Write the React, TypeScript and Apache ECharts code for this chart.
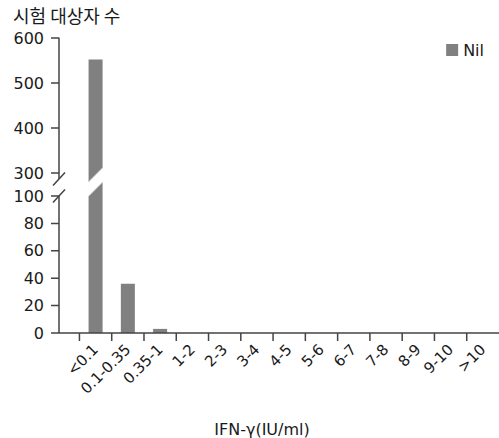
import React, { useEffect, useRef } from "react";
import * as echarts from "echarts";

// IFN-γ response bins and subject counts
const categories = ["<0.1", "0.1-0.35", "0.35-1", "1-2", "2-3", "3-4", "4-5", "5-6", "6-7", "7-8", "8-9", "9-10", ">10"];
const nilCounts = [552, 36, 3, 0, 0, 0, 0, 0, 0, 0, 0, 0, 0];

// Broken value axis: upper and lower segments
const upperRange = { min: 300, max: 600, interval: 100 };
const lowerRange = { min: 0, max: 100, interval: 20 };
const upperTicks = [600, 500, 400, 300];
const lowerTicks = [100, 80, 60, 40, 20, 0];

const seriesName = "Nil";
const yTitle = "시험 대상자 수";
const xTitle = "IFN-γ(IU/ml)";

// Layout (pixels)
const W = 499;
const H = 438;
const GRID_LEFT = 59; // y axis position
const FIRST_BIN_X = 80; // left edge of the first bin
const BIN_W = 33.15;
const UPPER_TOP = 38;
const BREAK_TOP = 173; // bottom of upper segment
const BREAK_BOTTOM = 196; // where the lower segment's top tick sits
const BASE_Y = 333; // zero line
const TICK_LEN = 8;

const AXIS_COLOR = "#444444";
const BAR_COLOR = "#808080";
const TEXT_COLOR = "#1a1a1a";
const FONT = "DejaVu Sans";

export default function App() {
  const ref = useRef<HTMLDivElement>(null);

  useEffect(() => {
    document.body.style.margin = "0";
    if (!ref.current) return;
    const chart = echarts.init(ref.current, null, { renderer: "svg" });

    // bins live on a value axis: bin i spans [i, i+1]; the axis starts a little before bin 0
    const xMin = -(FIRST_BIN_X - GRID_LEFT) / BIN_W;
    const xMax = categories.length;
    const gridWidth = (xMax - xMin) * BIN_W;
    const binEdges = categories.map((_, i) => i);
    const binCenters = categories.map((_, i) => i + 0.5);
    const barData = nilCounts.map((v, i) => [binCenters[i], v]);

    // lower axis runs on through the break gap so the tall bar stays continuous
    const lowerScale = (BASE_Y - BREAK_BOTTOM) / (lowerRange.max - lowerRange.min);
    const lowerAxisMax = lowerRange.max + (BREAK_BOTTOM - BREAK_TOP) / lowerScale;

    const yLabel = () => ({ color: TEXT_COLOR, fontSize: 16, fontFamily: FONT, margin: 15 });

    chart.setOption({
      animation: false,
      backgroundColor: "#ffffff",
      textStyle: { fontFamily: FONT },
      title: {
        text: yTitle,
        left: 8,
        top: 1,
        textStyle: {
          fontFamily: "Noto Sans CJK KR",
          fontSize: 18,
          fontWeight: "normal",
          color: TEXT_COLOR,
        },
      },
      legend: {
        data: [seriesName],
        right: 10,
        top: 37,
        icon: "rect",
        itemWidth: 12,
        itemHeight: 12,
        textStyle: { fontSize: 16, color: TEXT_COLOR, fontFamily: FONT },
      },
      grid: [
        { left: GRID_LEFT, width: gridWidth, top: UPPER_TOP, bottom: H - BREAK_TOP },
        { left: GRID_LEFT, width: gridWidth, top: BREAK_TOP, bottom: H - BASE_Y },
      ],
      xAxis: [
        {
          type: "value",
          gridIndex: 0,
          min: xMin,
          max: xMax,
          show: false,
        },
        {
          type: "value",
          gridIndex: 1,
          min: xMin,
          max: xMax,
          splitLine: { show: false },
          axisLine: { show: false },
          axisTick: { show: false },
          axisLabel: {
            customValues: binCenters,
            formatter: (v: number) => categories[Math.floor(v)] ?? "",
            rotate: 45,
            margin: 14,
            color: TEXT_COLOR,
            fontSize: 15,
            fontFamily: FONT,
          },
          name: xTitle,
          nameLocation: "middle",
          nameGap: 88,
          nameTextStyle: {
            fontSize: 16,
            color: TEXT_COLOR,
            fontFamily: FONT,
            padding: [0, 34, 0, 0],
          },
        },
      ],
      yAxis: [
        {
          type: "value",
          gridIndex: 0,
          min: upperRange.min,
          max: upperRange.max,
          interval: upperRange.interval,
          splitLine: { show: false },
          axisLine: { show: false },
          axisTick: { show: false },
          axisLabel: yLabel(),
        },
        {
          type: "value",
          gridIndex: 1,
          min: lowerRange.min,
          max: lowerAxisMax,
          interval: lowerRange.interval,
          splitLine: { show: false },
          axisLine: { show: false },
          axisTick: { show: false },
          axisLabel: {
            ...yLabel(),
            formatter: (v: number) => (v <= lowerRange.max && v % lowerRange.interval === 0 ? String(v) : ""),
          },
        },
      ],
      series: [
        {
          name: seriesName,
          type: "bar",
          xAxisIndex: 0,
          yAxisIndex: 0,
          data: barData,
          barWidth: 14,
          clip: true,
          itemStyle: { color: BAR_COLOR },
        },
        {
          name: seriesName,
          type: "bar",
          xAxisIndex: 1,
          yAxisIndex: 1,
          data: barData,
          barWidth: 14,
          clip: true,
          itemStyle: { color: BAR_COLOR },
        },
      ],
    });

    // Axis strokes and break markers, placed from the axes' own pixel mapping
    const upperPx = (v: number) => chart.convertToPixel({ gridIndex: 0 }, [xMin, v]) as number[];
    const lowerPx = (x: number, v: number) => chart.convertToPixel({ gridIndex: 1 }, [x, v]) as number[];
    const axisX = lowerPx(xMin, 0)[0];
    const rightX = lowerPx(xMax, 0)[0];
    const y0 = lowerPx(xMin, 0)[1];
    const y300 = upperPx(upperRange.min)[1];
    const y100 = lowerPx(xMin, lowerRange.max)[1];
    const s1 = y300 + 6;
    const s2 = y100;

    // upper y segment with its ticks, as one connected stroke
    const upperPath: number[][] = [];
    upperTicks.forEach((v) => {
      const y = upperPx(v)[1];
      upperPath.push([axisX, y], [axisX - TICK_LEN, y], [axisX, y]);
    });
    upperPath.push([axisX, s1]);

    // lower y segment, its ticks, then the x axis with bin ticks
    const lowerPath: number[][] = [[axisX, s2]];
    lowerTicks.forEach((v) => {
      const y = lowerPx(xMin, v)[1];
      lowerPath.push([axisX, y], [axisX - TICK_LEN, y], [axisX, y]);
    });
    binEdges.forEach((e) => {
      const x = lowerPx(e, 0)[0];
      lowerPath.push([x, y0], [x, y0 + TICK_LEN], [x, y0]);
    });
    lowerPath.push([rightX, y0]);

    const axisStroke = () => ({
      stroke: AXIS_COLOR,
      lineWidth: 1.5,
      lineJoin: "bevel",
      lineCap: "butt",
      fill: null,
    });

    const graphic: any[] = [
      { type: "polyline", z: 100, shape: { points: upperPath }, style: axisStroke() },
      { type: "polyline", z: 100, shape: { points: lowerPath }, style: axisStroke() },
      // break slashes
      {
        type: "line",
        z: 101,
        shape: { x1: axisX - 6, y1: s1 + 6.5, x2: axisX + 6, y2: s1 - 6.5 },
        style: { stroke: AXIS_COLOR, lineWidth: 1.5 },
      },
      {
        type: "line",
        z: 101,
        shape: { x1: axisX - 6, y1: s2 + 6.5, x2: axisX + 6, y2: s2 - 6.5 },
        style: { stroke: AXIS_COLOR, lineWidth: 1.5 },
      },
    ];

    // diagonal cut through every bar taller than the lower segment
    nilCounts.forEach((v, i) => {
      if (v <= upperRange.min) return;
      const cx = lowerPx(binCenters[i], 0)[0];
      const yc = y300 + 9;
      const half = 8;
      const t = 7;
      graphic.push({
        type: "polygon",
        z: 100,
        shape: {
          points: [
            [cx - half, yc + half - t],
            [cx + half, yc - half - t],
            [cx + half, yc - half + t],
            [cx - half, yc + half + t],
          ],
        },
        style: { fill: "#ffffff" },
      });
      [-t, t].forEach((d) => {
        graphic.push({
          type: "line",
          z: 101,
          shape: { x1: cx - 7, y1: yc + 7 + d, x2: cx + 7, y2: yc - 7 + d },
          style: { stroke: "#e2e2e2", lineWidth: 1 },
        });
      });
    });

    chart.setOption({ graphic });

    return () => chart.dispose();
  }, []);

  return <div ref={ref} style={{ width: W, height: H }} />;
}
